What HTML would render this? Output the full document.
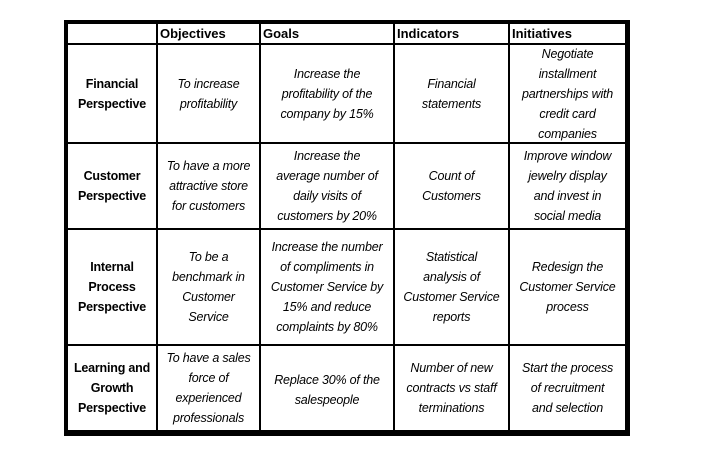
<!DOCTYPE html>
<html><head><meta charset="utf-8"><style>
body{margin:0;width:705px;height:460px;background:#fff;position:relative;overflow:hidden;font-family:"Liberation Sans",sans-serif;color:#000}
.l{position:absolute;background:#000}
.c{position:absolute;display:flex;align-items:center;justify-content:center;text-align:center;font-size:12.5px;line-height:20px;font-style:italic;letter-spacing:-0.2px}
.b{font-style:normal;font-weight:bold}
.h{position:absolute;font-weight:bold;font-size:13px;top:24px;height:20px;line-height:20px}
</style></head><body>
<div class="l" style="left:64px;top:20px;width:566px;height:4px"></div>
<div class="l" style="left:64px;top:430px;width:566px;height:6px"></div>
<div class="l" style="left:64px;top:20px;width:4px;height:416px"></div>
<div class="l" style="left:625px;top:20px;width:5px;height:416px"></div>
<div class="l" style="left:156px;top:20px;width:2px;height:416px"></div>
<div class="l" style="left:259px;top:20px;width:2px;height:416px"></div>
<div class="l" style="left:393px;top:20px;width:2px;height:416px"></div>
<div class="l" style="left:508px;top:20px;width:2px;height:416px"></div>
<div class="l" style="left:64px;top:43px;width:566px;height:2px"></div>
<div class="l" style="left:64px;top:142px;width:566px;height:2px"></div>
<div class="l" style="left:64px;top:228px;width:566px;height:2px"></div>
<div class="l" style="left:64px;top:344px;width:566px;height:2px"></div>

<div class="h" style="left:160px">Objectives</div>
<div class="h" style="left:263px">Goals</div>
<div class="h" style="left:397px">Indicators</div>
<div class="h" style="left:512px">Initiatives</div>

<div class="c b" style="left:68px;top:45px;width:88px;height:97px">Financial<br>Perspective</div>
<div class="c" style="left:158px;top:45px;width:101px;height:97px">To increase<br>profitability</div>
<div class="c" style="left:261px;top:45px;width:132px;height:97px">Increase the<br>profitability of the<br>company by 15%</div>
<div class="c" style="left:395px;top:45px;width:113px;height:97px">Financial<br>statements</div>
<div class="c" style="left:510px;top:45px;width:115px;height:97px">Negotiate<br>installment<br>partnerships with<br>credit card<br>companies</div>

<div class="c b" style="left:68px;top:144px;width:88px;height:84px">Customer<br>Perspective</div>
<div class="c" style="left:158px;top:144px;width:101px;height:84px">To have a more<br>attractive store<br>for customers</div>
<div class="c" style="left:261px;top:144px;width:132px;height:84px">Increase the<br>average number of<br>daily visits of<br>customers by 20%</div>
<div class="c" style="left:395px;top:144px;width:113px;height:84px">Count of<br>Customers</div>
<div class="c" style="left:510px;top:144px;width:115px;height:84px">Improve window<br>jewelry display<br>and invest in<br>social media</div>

<div class="c b" style="left:68px;top:230px;width:88px;height:114px">Internal<br>Process<br>Perspective</div>
<div class="c" style="left:158px;top:230px;width:101px;height:114px">To be a<br>benchmark in<br>Customer<br>Service</div>
<div class="c" style="left:261px;top:230px;width:132px;height:114px">Increase the number<br>of compliments in<br>Customer Service by<br>15% and reduce<br>complaints by 80%</div>
<div class="c" style="left:395px;top:230px;width:113px;height:114px">Statistical<br>analysis of<br>Customer Service<br>reports</div>
<div class="c" style="left:510px;top:230px;width:115px;height:114px">Redesign the<br>Customer Service<br>process</div>

<div class="c b" style="left:68px;top:346px;width:88px;height:84px">Learning and<br>Growth<br>Perspective</div>
<div class="c" style="left:158px;top:346px;width:101px;height:84px">To have a sales<br>force of<br>experienced<br>professionals</div>
<div class="c" style="left:261px;top:346px;width:132px;height:84px;align-items:flex-start;padding-top:24px;box-sizing:border-box">Replace 30% of the<br>salespeople</div>
<div class="c" style="left:395px;top:346px;width:113px;height:84px">Number of new<br>contracts vs staff<br>terminations</div>
<div class="c" style="left:510px;top:346px;width:115px;height:84px">Start the process<br>of recruitment<br>and selection</div>
</body></html>
